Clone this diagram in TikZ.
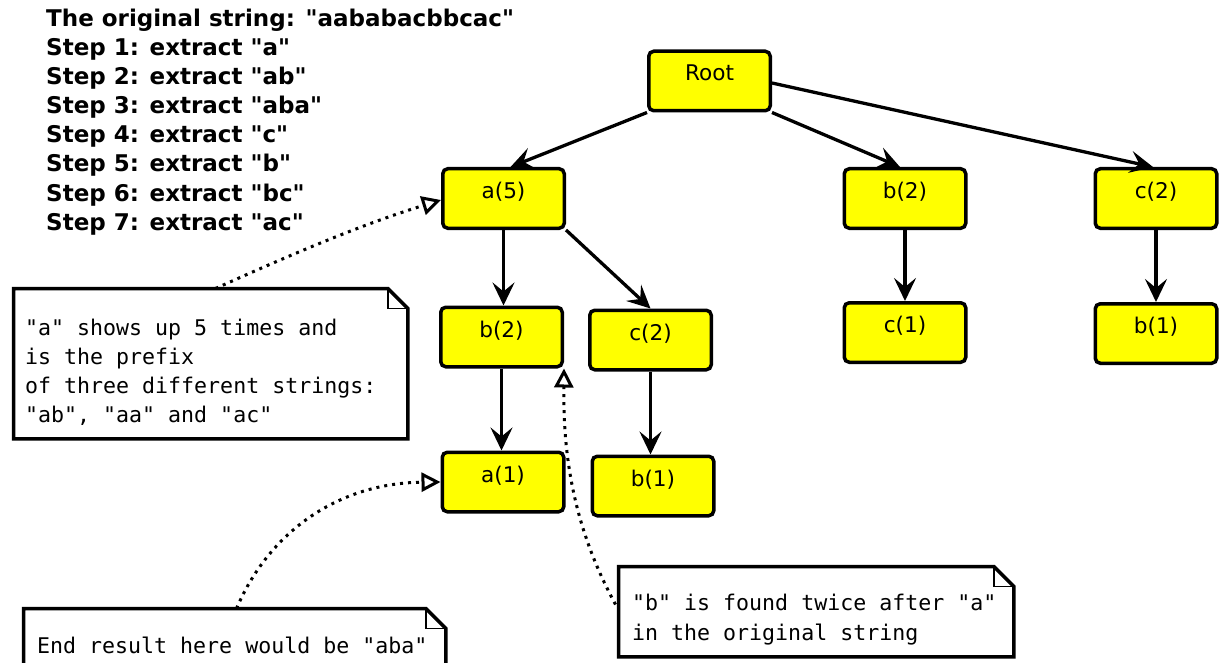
\documentclass[tikz,border=0pt]{standalone}
\usepackage{fontspec}
\setmainfont{DejaVu Sans}
\newfontfamily\hdrfont{DejaVu Sans}
\setmonofont{DejaVu Sans Mono}
\usetikzlibrary{arrows.meta,calc}
\definecolor{boxyellow}{RGB}{255,255,0}
\tikzset{
  box/.style={draw, line width=3.5pt, fill=boxyellow, rounded corners=5pt,
    minimum width=121.5pt, minimum height=59.5pt, inner sep=0pt,
    font=\fontsize{21.6}{26}\selectfont, text height=16pt, text depth=16pt},
  edge/.style={line width=3.3pt, -{Stealth[length=23pt,width=22pt,inset=9pt]}},
  dotconn/.style={line width=3pt, dash pattern=on 3pt off 5pt,
    -{Triangle[open,length=19pt,width=19pt,line width=3pt]}},
  notearea/.style={inner sep=0pt, anchor=north west},
  noteline/.style={line width=3.5pt, line join=miter},
  foldline/.style={line width=1.8pt},
  hdr/.style={inner sep=0pt, anchor=base west, font=\fontsize{23}{29}\selectfont\hdrfont\bfseries},
  mono/.style={inner sep=0pt, anchor=base west, font=\fontsize{21.6}{29}\selectfont\ttfamily},
}
\begin{document}
\begin{tikzpicture}[x=1pt,y=-1pt]
\useasboundingbox (0,0) rectangle (1220,663);
% header text
\foreach \t [count=\i from 0] in {{The original string: "aababacbbcac"},
  {Step 1: extract "a"},{Step 2: extract "ab"},{Step 3: extract "aba"},
  {Step 4: extract "c"},{Step 5: extract "b"},{Step 6: extract "bc"},
  {Step 7: extract "ac"}}
  \node[hdr] (h\i) at (46,{27+29*\i}) {\t};
% tree nodes
\node[box] (root) at (709.5,81) {Root};
\node[box] (a5) at (503.5,198.5) {a(5)};
\node[box] (b2) at (501.5,337) {b(2)};
\node[box] (c2) at (650.5,340) {c(2)};
\node[box] (a1) at (503,482) {a(1)};
\node[box] (b1) at (653,486) {b(1)};
\node[box] (b2R) at (905,198.5) {b(2)};
\node[box] (c1) at (905,332.5) {c(1)};
\node[box] (c2R) at (1156,198.5) {c(2)};
\node[box] (b1R) at (1156,333.5) {b(1)};
% tree edges
\draw[edge] (root.south west) -- ([xshift=7pt]a5.north);
\draw[edge] (root.south east) -- ([xshift=-5pt]b2R.north);
\draw[edge] ([yshift=-2pt]root.east) -- ([xshift=-3pt]c2R.north);
\draw[edge] (a5.south) -- (a5.south |- b2.north);
\draw[edge] (a5.south east) -- (c2.north);
\draw[edge] (b2.south) -- (b2.south |- a1.north);
\draw[edge] (c2.south) -- (c2.south |- b1.north);
\draw[edge] (b2R.south) -- (c1.north);
\draw[edge] (c2R.south) -- (b1R.north);
% notes
\node[notearea, minimum width=394pt, minimum height=150pt] (n1) at (13.5,288.5) {};
\node[notearea, minimum width=422pt, minimum height=80pt] (n2) at (23.5,608.5) {};
\node[notearea, minimum width=395pt, minimum height=90pt] (n3) at (618.5,566.5) {};
\foreach \n in {n1,n2,n3}{
  \draw[noteline] (\n.north west) -- ([xshift=-20pt]\n.north east)
    -- ([yshift=-20pt]\n.north east) -- (\n.south east) -- (\n.south west) -- cycle;
  \draw[foldline] ([xshift=-20pt]\n.north east) |- ([yshift=-20pt]\n.north east);
}
\foreach \t [count=\i from 0] in {{"a" shows up 5 times and},{is the prefix},
  {of three different strings:},{"ab", "aa" and "ac"}}
  \node[mono] (n1t\i) at (25,{335+29*\i}) {\t};
\node[mono] (n2t) at (37,653) {End result here would be "aba"};
\node[mono] (n3t0) at (632,610) {"b" is found twice after "a"};
\node[mono] (n3t1) at (632,640) {in the original string};
% dotted connectors
\draw[dotconn] ($(n1.north west)+(202,0)$) .. controls (290,255) and (360,225) .. ([yshift=-1.5pt]a5.west);
\draw[dotconn] ($(n2.north west)+(213,0)$) .. controls (270,530) and (340,483) .. (a1.west);
\draw[dotconn] ($(n3.north west)+(-3,38)$) .. controls (575,530) and (563,460) .. (b2.south east);
\end{tikzpicture}
\end{document}
